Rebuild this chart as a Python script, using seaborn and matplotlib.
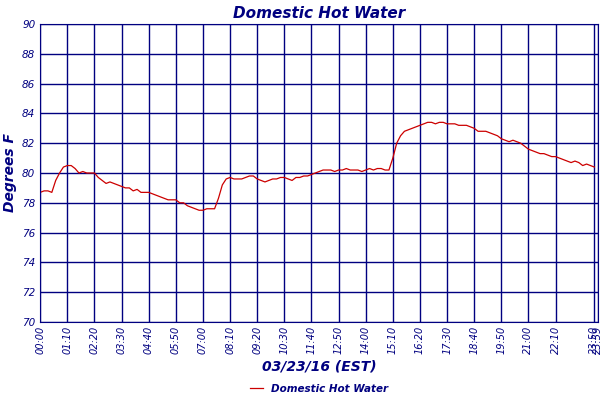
import matplotlib
matplotlib.use("Agg")
import matplotlib.pyplot as plt
import seaborn as sns
import pandas as pd

temps = [
78.7,78.8,78.8,78.7,79.5,80.0,
80.4,80.5,80.5,80.3,80.0,80.1,
80.0,80.0,80.0,79.7,79.5,79.3,
79.4,79.3,79.2,79.1,79.0,79.0,
78.8,78.9,78.7,78.7,78.7,78.6,
78.5,78.4,78.3,78.2,78.2,78.2,
78.0,78.0,77.8,77.7,77.6,77.5,
77.5,77.6,77.6,77.6,78.3,79.2,
79.6,79.7,79.6,79.6,79.6,79.7,
79.8,79.8,79.6,79.5,79.4,79.5,
79.6,79.6,79.7,79.7,79.6,79.5,
79.7,79.7,79.8,79.8,79.9,80.0,
80.1,80.2,80.2,80.2,80.1,80.2,
80.2,80.3,80.2,80.2,80.2,80.1,
80.2,80.3,80.2,80.3,80.3,80.2,
80.2,81.0,82.0,82.5,82.8,82.9,
83.0,83.1,83.2,83.3,83.4,83.4,
83.3,83.4,83.4,83.3,83.3,83.3,
83.2,83.2,83.2,83.1,83.0,82.8,
82.8,82.8,82.7,82.6,82.5,82.3,
82.2,82.1,82.2,82.1,82.0,81.8,
81.6,81.5,81.4,81.3,81.3,81.2,
81.1,81.1,81.0,80.9,80.8,80.7,
80.8,80.7,80.5,80.6,80.5,80.4,
]
minutes = list(range(0, 1440, 10))
tick_minutes = [0,70,140,210,280,350,420,490,560,630,700,770,840,910,980,1050,1120,1190,1260,1330,1430,1439]
tick_labels = ["00:00","01:10","02:20","03:30","04:40","05:50","07:00","08:10","09:20","10:30",
               "11:40","12:50","14:00","15:10","16:20","17:30","18:40","19:50","21:00","22:10",
               "23:50","23:59"]
navy = "#000080"
df = pd.DataFrame({"min": minutes, "temp": temps})

fig = plt.figure(figsize=(6, 4), dpi=100)
ax = fig.add_axes([0.067, 0.195, 0.93, 0.745])
sns.lineplot(data=df, x="min", y="temp", ax=ax, color="#cc0000", lw=0.9, label="Domestic Hot Water")
ax.set_xlim(0, 1440)
ax.set_ylim(70, 90)
ax.set_yticks(range(70, 91, 2))
ax.set_xticks(tick_minutes)
ax.set_xticklabels(tick_labels, rotation=90, fontsize=7, color=navy)
ax.tick_params(axis="y", labelsize=7.5, colors=navy, length=0)
ax.tick_params(axis="x", length=0, colors=navy, pad=3)
for t in ax.get_yticklabels():
    t.set_style("italic")
for t in ax.get_xticklabels():
    t.set_style("italic")
ax.grid(True, color=navy, lw=1)
for s in ax.spines.values():
    s.set_color(navy)
ax.set_xlabel("03/23/16 (EST)", color=navy, fontsize=10, style="italic", fontweight="bold", labelpad=4)
ax.set_ylabel("Degrees F", color=navy, fontsize=10, style="italic", fontweight="bold")
ax.set_title("Domestic Hot Water", color=navy, fontsize=11, style="italic", fontweight="bold", pad=4)
leg = ax.legend(loc="center", bbox_to_anchor=(0.5, -0.225), frameon=False, fontsize=7.5,
                handlelength=1.2, borderpad=0.1)
for t in leg.get_texts():
    t.set_color(navy); t.set_style("italic"); t.set_fontweight("bold")
fig.savefig("out.png", dpi=100)
